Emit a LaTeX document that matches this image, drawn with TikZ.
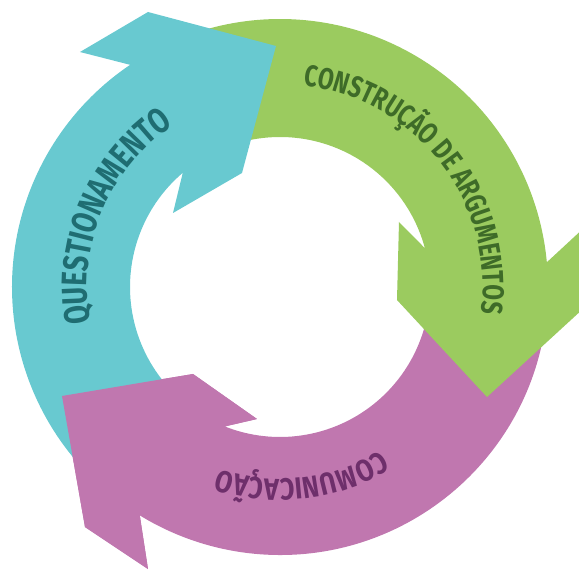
\documentclass[tikz,border=0pt]{standalone}
\usepackage{fontspec}
\usetikzlibrary{decorations.text}
\newfontfamily\bandfont{Fira Sans}[UprightFont={* Bold}, FakeStretch=0.76]
\newfontfamily\bandwidefont{Fira Sans}[UprightFont={* Bold}, FakeStretch=0.825]

\definecolor{qfill}{RGB}{104,201,208}
\definecolor{afill}{RGB}{155,203,95}
\definecolor{cfill}{RGB}{192,119,175}
\definecolor{qtext}{RGB}{31,109,114}
\definecolor{atext}{RGB}{62,107,40}
\definecolor{ctext}{RGB}{110,47,107}

\tikzset{
  ringpart/.style={draw=none},
  bandlabel/.style={decorate, decoration={text along path, text align=center, text color=#1}}
}

\begin{document}
\begin{tikzpicture}[x=1pt,y=1pt]
  \useasboundingbox (-280,-283) rectangle (299,287);
  \clip (-280,-283) rectangle (299,287);

  % Comunicação: band from under the green head to its own head at lower left
  \path[ringpart, fill=cfill]
    (-5:268) arc[start angle=-5, end angle=-121.55, radius=268]
    -- (-132,-282) -- (-195,-240) -- (-218,-109) -- (-87,-87) -- (-23,-132)
    -- (-111.6:150) arc[start angle=-111.6, end angle=-5, radius=150] -- cycle;

  % Construção de argumentos: band from under the cyan head to its head at right
  \path[ringpart, fill=afill]
    (118:268) arc[start angle=118, end angle=5.3, radius=268]
    -- (306,61) -- (304,-21) -- (207,-110) -- (117,-13) -- (119,65)
    -- (15:150) arc[start angle=15, end angle=118, radius=150] -- cycle;

  % Questionamento: band from under the purple head to its head at top
  \path[ringpart, fill=qfill]
    (222:268) arc[start angle=222, end angle=124, radius=268]
    -- (-200,235) -- (-132,275) -- (-4,241) -- (-38,114) -- (-107,74)
    -- (130.4:150) arc[start angle=130.4, end angle=222, radius=150] -- cycle;

  % purple head laid again over the cyan tail
  \path[ringpart, fill=cfill]
    (-121.55:268) -- (-132,-282) -- (-195,-240) -- (-218,-109) -- (-87,-87)
    -- (-23,-132) -- (-111.6:150) -- cycle;

  % labels along the ring
  \path[bandlabel=qtext, decoration={text={|\bandfont\fontsize{35.5}{35.5}\selectfont|QUESTIONAMENTO}}]
    (217:193) arc[start angle=217, end angle=97, radius=193];
  \path[bandlabel=atext, decoration={text={|\bandfont\fontsize{30}{30}\selectfont|CONSTRUÇÃO DE ARGUMENTOS}}]
    (98:203) arc[start angle=98, end angle=-22, radius=203];
  \path[bandlabel=ctext, decoration={text={|\bandwidefont\fontsize{30.5}{30.5}\selectfont|COMUNICAÇÃO}}]
    (336.6:192) arc[start angle=336.6, end angle=216.6, radius=192];
\end{tikzpicture}
\end{document}
